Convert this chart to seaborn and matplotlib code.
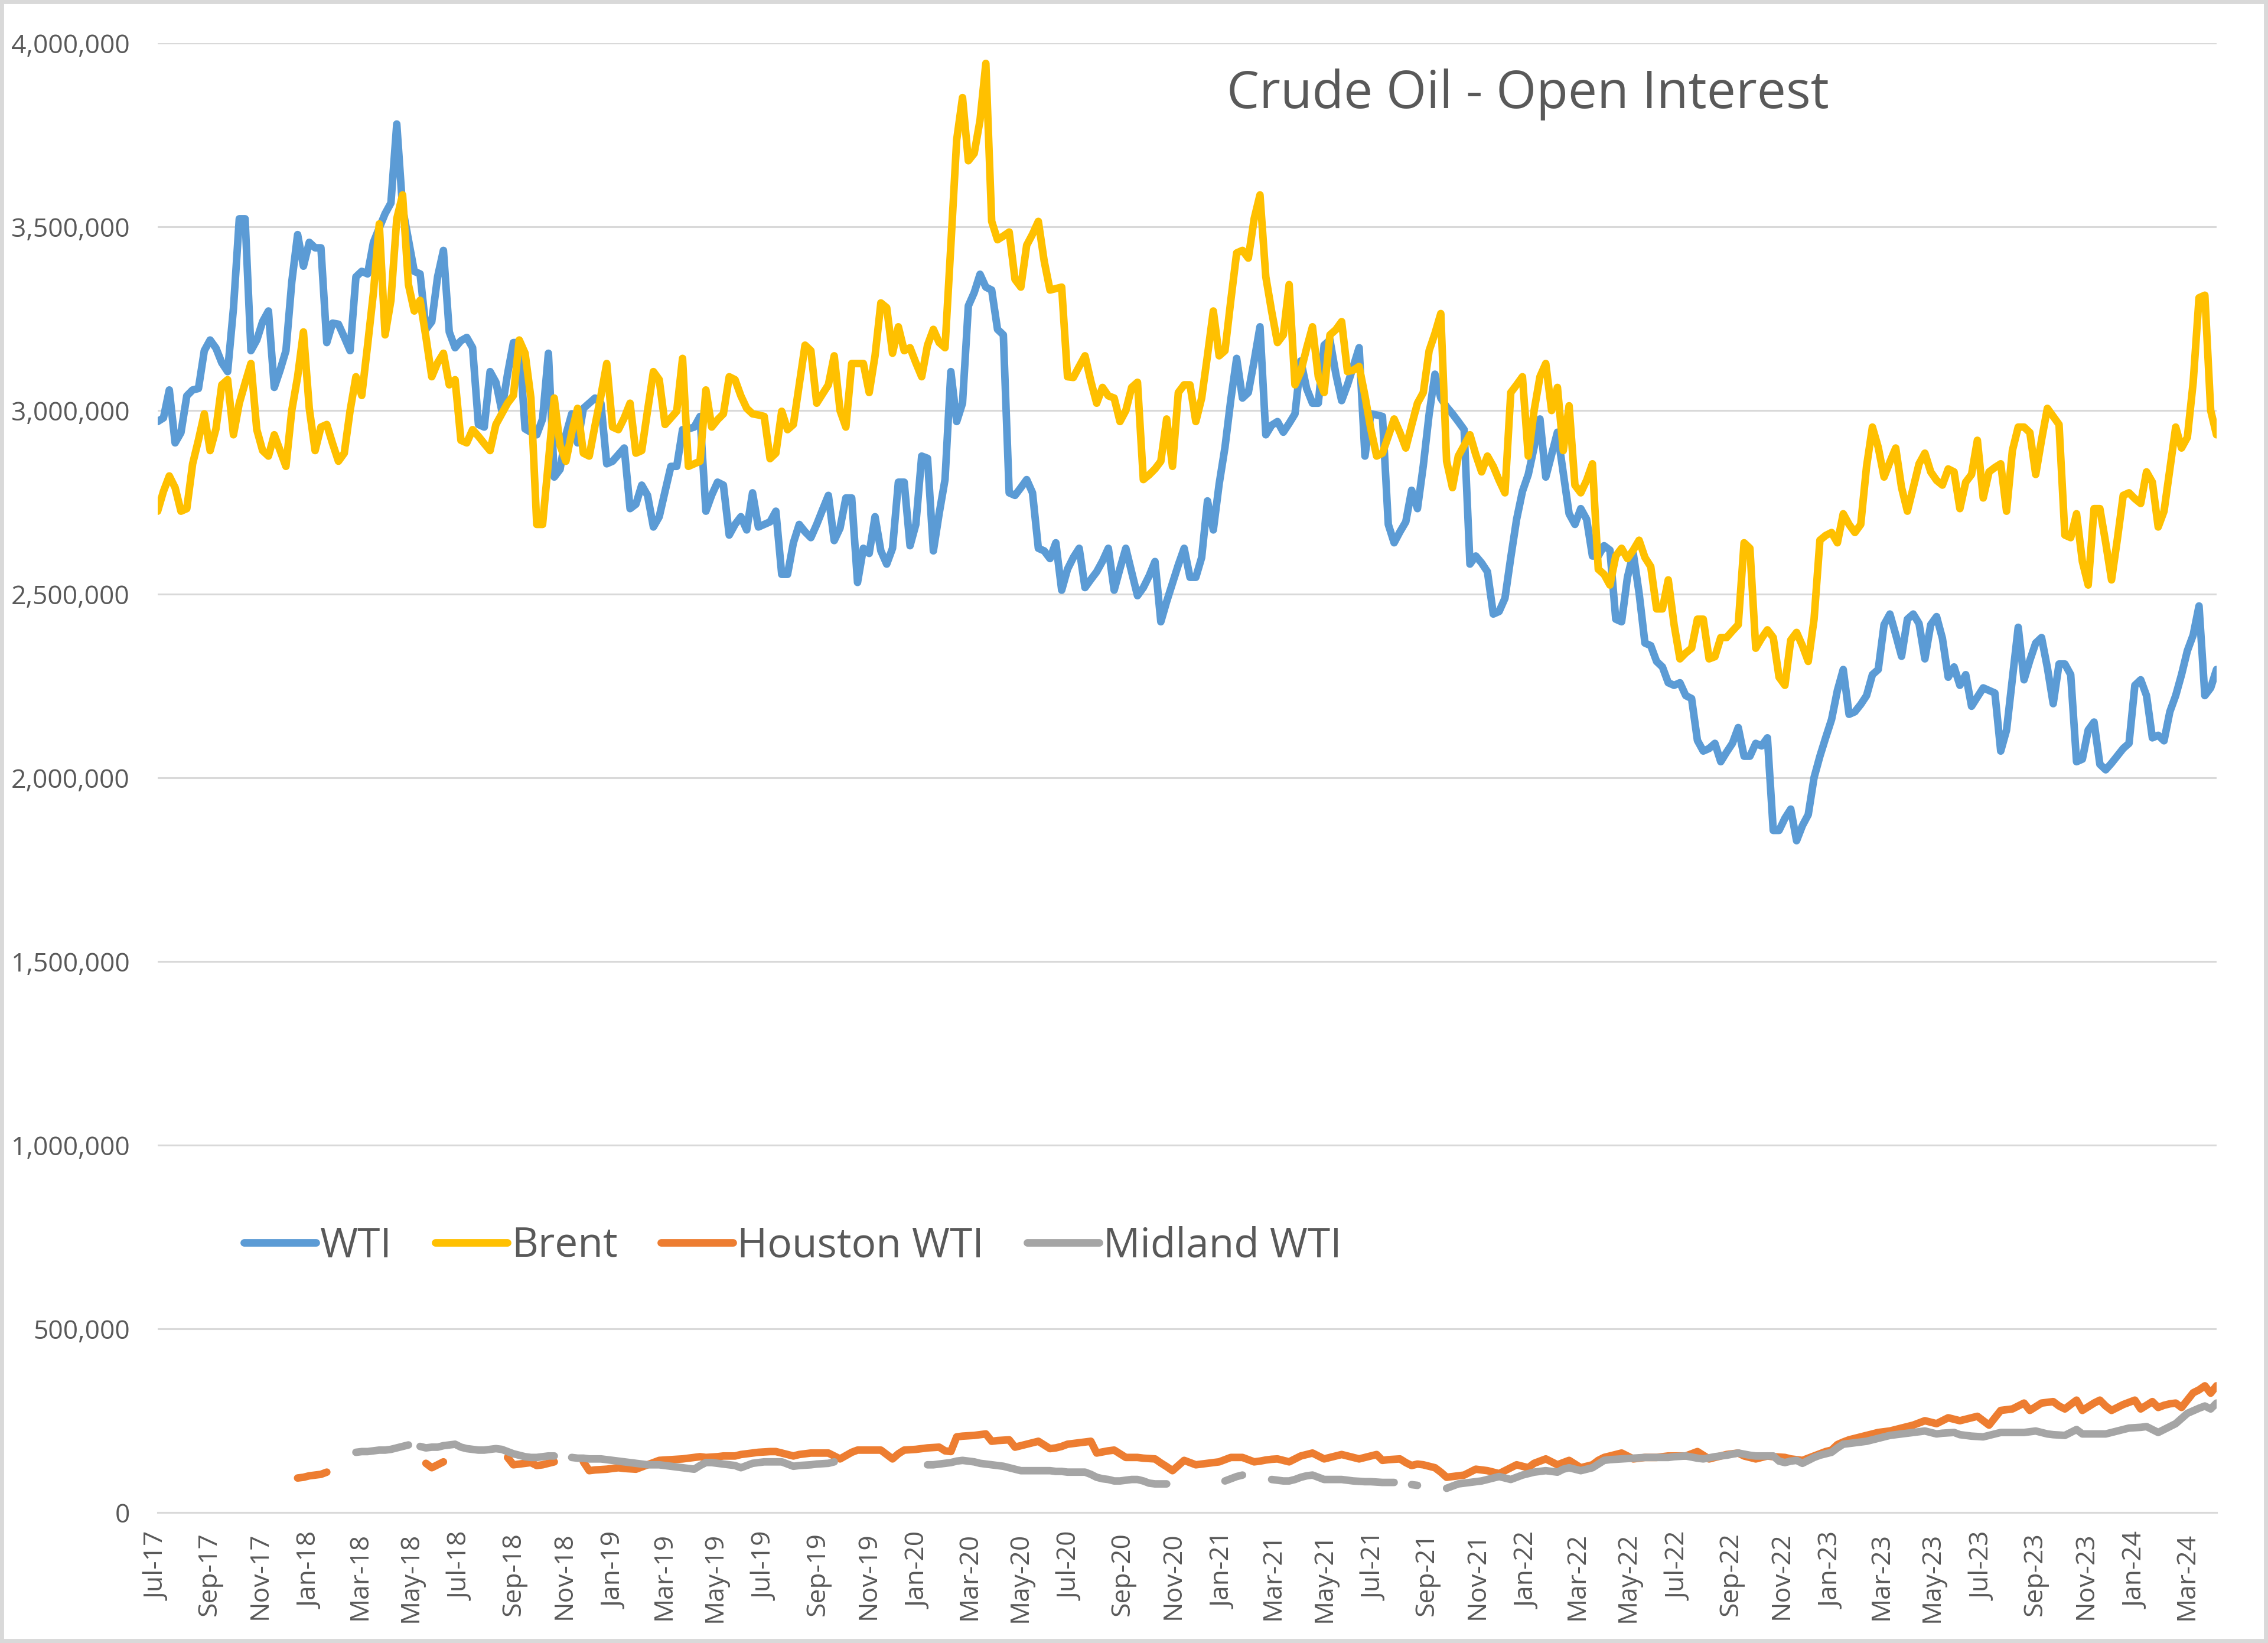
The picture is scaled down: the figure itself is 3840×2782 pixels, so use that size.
import numpy as np
import pandas as pd
import matplotlib.pyplot as plt
from matplotlib.ticker import FuncFormatter, MultipleLocator
from matplotlib.patches import Rectangle
import seaborn as sns

N = None  # no contract traded that week

# weekly open interest in thousand contracts, first week is 4 Jul 2017
wti = [
    2970, 2980, 3056, 2912, 2940, 3040, 3056, 3060, 3163, 3192,
    3170, 3130, 3106, 3278, 3522, 3522, 3163, 3192, 3242, 3271,
    3063, 3110, 3163, 3350, 3479, 3393, 3458, 3443, 3443, 3185,
    3238, 3235, 3200, 3163, 3364, 3379, 3372, 3458, 3497, 3536,
    3565, 3780, 3551, 3465, 3379, 3372, 3221, 3242, 3364, 3436,
    3214, 3171, 3190, 3199, 3171, 2962, 2955, 3106, 3077, 3000,
    3100, 3185, 3185, 2950, 2941, 2934, 2977, 3156, 2819, 2840,
    2934, 2991, 2912, 3006, 3020, 3034, 3020, 2855, 2862, 2880,
    2898, 2733, 2745, 2797, 2769, 2683, 2711, 2780, 2848, 2848,
    2948, 2950, 2955, 2984, 2726, 2770, 2805, 2797, 2661, 2690,
    2711, 2675, 2776, 2683, 2690, 2697, 2726, 2554, 2554, 2640,
    2690, 2670, 2654, 2690, 2730, 2769, 2646, 2680, 2762, 2762,
    2532, 2625, 2611, 2711, 2618, 2582, 2625, 2805, 2805, 2632,
    2690, 2876, 2870, 2618, 2720, 2812, 3106, 2970, 3020, 3285,
    3321, 3371, 3336, 3328, 3221, 3206, 2776, 2769, 2790, 2812,
    2776, 2625, 2618, 2597, 2640, 2511, 2568, 2600, 2625, 2518,
    2540, 2561, 2590, 2625, 2511, 2570, 2625, 2560, 2496, 2518,
    2550, 2589, 2425, 2480, 2530, 2580, 2625, 2546, 2546, 2600,
    2754, 2675, 2800, 2900, 3030, 3142, 3034, 3049, 3135, 3228,
    2934, 2960, 2970, 2941, 2965, 2991, 3135, 3060, 3020, 3020,
    3178, 3192, 3100, 3027, 3070, 3120, 3171, 2876, 2991, 2988,
    2984, 2690, 2640, 2670, 2697, 2783, 2733, 2850, 2990, 3099,
    3034, 3010, 2991, 2970, 2948, 2582, 2604, 2585, 2561, 2446,
    2453, 2489, 2600, 2704, 2780, 2826, 2900, 2977, 2819, 2880,
    2941, 2830, 2719, 2690, 2733, 2704, 2604, 2604, 2632, 2620,
    2432, 2425, 2546, 2611, 2503, 2367, 2360, 2317, 2302, 2259,
    2252, 2259, 2224, 2216, 2102, 2073, 2080, 2094, 2044, 2070,
    2094, 2137, 2059, 2059, 2094, 2087, 2109, 1857, 1857, 1890,
    1915, 1829, 1870, 1900, 2001, 2059, 2110, 2159, 2238, 2295,
    2173, 2180, 2200, 2224, 2281, 2295, 2417, 2446, 2390, 2331,
    2432, 2446, 2420, 2324, 2417, 2439, 2380, 2274, 2302, 2252,
    2281, 2195, 2220, 2245, 2238, 2231, 2073, 2130, 2270, 2410,
    2267, 2320, 2367, 2382, 2300, 2202, 2310, 2310, 2281, 2044,
    2051, 2130, 2152, 2037, 2022, 2040, 2060, 2080, 2094, 2252,
    2267, 2224, 2109, 2116, 2101, 2180, 2224, 2281, 2346, 2389,
    2468, 2224, 2245, 2295,
]

brent = [
    2726, 2780, 2822, 2790, 2726, 2733, 2855, 2920, 2991, 2891,
    2950, 3070, 3084, 2934, 3020, 3075, 3128, 2948, 2891, 2876,
    2934, 2891, 2848, 3000, 3092, 3214, 3006, 2891, 2955, 2962,
    2910, 2862, 2884, 3000, 3092, 3041, 3178, 3321, 3508, 3206,
    3300, 3522, 3587, 3343, 3271, 3300, 3200, 3092, 3130, 3156,
    3070, 3084, 2919, 2912, 2948, 2930, 2910, 2891, 2962, 2991,
    3020, 3041, 3192, 3156, 3034, 2690, 2690, 2860, 3034, 2905,
    2862, 2940, 3006, 2884, 2876, 2960, 3040, 3128, 2955, 2948,
    2980, 3020, 2884, 2891, 3000, 3106, 3084, 2962, 2980, 2998,
    3142, 2848, 2855, 2862, 3056, 2955, 2975, 2991, 3092, 3084,
    3040, 3006, 2991, 2988, 2984, 2869, 2884, 2998, 2948, 2962,
    3070, 3178, 3163, 3020, 3045, 3070, 3149, 3000, 2955, 3128,
    3128, 3128, 3049, 3149, 3293, 3280, 3156, 3228, 3163, 3171,
    3130, 3092, 3178, 3221, 3185, 3171, 3450, 3737, 3852, 3680,
    3700, 3790, 3945, 3515, 3465, 3475, 3486, 3357, 3336, 3450,
    3480, 3515, 3407, 3328, 3332, 3336, 3092, 3090, 3120, 3149,
    3080, 3020, 3063, 3040, 3034, 2970, 3000, 3063, 3077, 2812,
    2825, 2841, 2862, 2977, 2848, 3049, 3070, 3070, 2970, 3034,
    3150, 3271, 3149, 3163, 3300, 3429, 3436, 3415, 3522, 3587,
    3364, 3270, 3185, 3206, 3343, 3070, 3106, 3170, 3228, 3092,
    3049, 3206, 3220, 3242, 3106, 3110, 3120, 3040, 2950, 2876,
    2884, 2930, 2977, 2940, 2898, 2960, 3020, 3049, 3163, 3210,
    3264, 2862, 2790, 2876, 2905, 2934, 2880, 2833, 2876, 2848,
    2810, 2776, 3049, 3070, 3092, 2876, 3000, 3092, 3128, 3000,
    3063, 2891, 3013, 2797, 2776, 2810, 2855, 2568, 2554, 2525,
    2604, 2625, 2597, 2620, 2647, 2600, 2575, 2460, 2460, 2539,
    2417, 2324, 2340, 2353, 2432, 2432, 2324, 2330, 2382, 2382,
    2400, 2417, 2640, 2625, 2353, 2380, 2403, 2382, 2274, 2252,
    2375, 2396, 2360, 2317, 2432, 2647, 2660, 2668, 2640, 2719,
    2690, 2668, 2690, 2848, 2955, 2900, 2819, 2860, 2898, 2790,
    2726, 2790, 2855, 2884, 2833, 2810, 2797, 2841, 2833, 2733,
    2805, 2826, 2919, 2762, 2833, 2845, 2855, 2726, 2891, 2955,
    2955, 2940, 2826, 2920, 3006, 2984, 2962, 2661, 2654, 2719,
    2589, 2525, 2733, 2733, 2640, 2539, 2650, 2769, 2776, 2760,
    2747, 2833, 2805, 2683, 2726, 2840, 2955, 2898, 2927, 3077,
    3307, 3314, 3000, 2934,
]

houston = [
    N, N, N, N, N, N, N, N, N, N,
    N, N, N, N, N, N, N, N, N, N,
    N, N, N, N, 94, 96, 100, 102, 104, 110,
    N, N, N, N, N, N, N, N, N, N,
    N, N, N, N, N, N, 134, 122, 130, 138,
    N, N, N, N, N, N, N, N, N, N,
    150, 130, 132, 134, 136, 128, 130, 134, 138, N,
    N, N, N, 138, 114, 116, 117, 118, 120, 122,
    120, 119, 118, 124, 130, 136, 142, 143, 144, 145,
    146, 148, 150, 152, 150, 151, 152, 154, 154, 154,
    158, 160, 162, 164, 165, 166, 166, 162, 158, 154,
    158, 160, 162, 162, 162, 162, 154, 146, 155, 164,
    170, 170, 170, 170, 170, 158, 146, 160, 170, 171,
    172, 174, 176, 177, 178, 168, 166, 206, 208, 209,
    210, 212, 214, 194, 196, 197, 198, 178, 182, 186,
    190, 194, 184, 174, 176, 180, 186, 188, 190, 192,
    194, 162, 165, 168, 170, 160, 150, 150, 150, 148,
    147, 146, 135, 125, 114, 128, 142, 136, 130, 132,
    134, 136, 138, 144, 150, 150, 150, 144, 138, 140,
    143, 145, 146, 142, 138, 146, 154, 158, 162, 154,
    146, 150, 154, 158, 154, 150, 146, 150, 154, 158,
    142, 144, 145, 146, 136, 128, 132, 130, 126, 122,
    110, 96, 98, 100, 102, 110, 118, 116, 114, 110,
    106, 114, 122, 130, 126, 122, 134, 140, 146, 138,
    130, 136, 142, 132, 122, 126, 130, 142, 150, 154,
    158, 162, 154, 146, 148, 150, 150, 150, 152, 154,
    154, 154, 154, 160, 166, 156, 146, 150, 154, 158,
    160, 162, 154, 150, 146, 150, 154, 152, 151, 150,
    146, 144, 142, 148, 154, 160, 166, 170, 185, 192,
    198, 202, 206, 210, 214, 218, 220, 222, 226, 230,
    234, 238, 244, 250, 246, 242, 250, 258, 254, 250,
    254, 258, 262, 250, 238, 258, 278, 280, 282, 290,
    298, 278, 288, 298, 300, 302, 290, 282, 294, 306,
    278, 288, 298, 306, 290, 278, 286, 294, 300, 306,
    282, 292, 302, 286, 292, 296, 298, 286, 306, 326,
    334, 345, 325, 345,
]

midland = [
    N, N, N, N, N, N, N, N, N, N,
    N, N, N, N, N, N, N, N, N, N,
    N, N, N, N, N, N, N, N, N, N,
    N, N, N, N, 164, 166, 166, 168, 170, 170,
    172, 176, 180, 184, N, 180, 176, 178, 178, 182,
    184, 186, 178, 174, 172, 170, 170, 172, 174, 172,
    166, 160, 156, 152, 150, 150, 152, 154, 154, N,
    N, 150, 148, 148, 146, 146, 146, 144, 142, 140,
    138, 136, 134, 132, 130, 130, 130, 128, 126, 124,
    122, 120, 118, 128, 136, 136, 134, 132, 130, 128,
    122, 128, 134, 136, 138, 138, 138, 138, 132, 126,
    128, 129, 130, 132, 133, 134, 138, N, N, N,
    N, N, N, N, N, N, N, N, N, N,
    N, N, 130, 130, 132, 134, 136, 140, 142, 140,
    138, 134, 132, 130, 128, 126, 122, 118, 114, 114,
    114, 114, 114, 114, 112, 112, 110, 110, 110, 110,
    104, 96, 92, 90, 86, 86, 88, 90, 90, 86,
    80, 78, 78, 78, N, N, N, N, N, N,
    N, N, N, 86, 92, 98, 102, N, N, N,
    N, 90, 88, 86, 86, 90, 96, 100, 102, 96,
    90, 90, 90, 90, 88, 86, 85, 84, 84, 83,
    82, 82, 82, N, N, 76, 74, N, N, N,
    N, 66, 72, 78, 80, 82, 84, 86, 90, 94,
    98, 94, 90, 96, 102, 106, 110, 112, 114, 112,
    110, 118, 122, 118, 114, 118, 122, 132, 142, 144,
    145, 146, 147, 148, 149, 150, 150, 150, 150, 150,
    152, 153, 154, 151, 148, 146, 149, 152, 154, 156,
    159, 162, 159, 156, 154, 154, 154, 154, 140, 136,
    140, 142, 134, 142, 150, 156, 160, 164, 176, 186,
    188, 190, 192, 194, 198, 202, 206, 210, 212, 214,
    216, 218, 220, 222, 218, 214, 216, 217, 218, 212,
    210, 208, 207, 206, 210, 214, 218, 218, 218, 218,
    218, 220, 222, 218, 214, 212, 211, 210, 218, 226,
    214, 214, 214, 214, 214, 218, 222, 226, 230, 231,
    232, 234, 226, 218, 226, 234, 242, 256, 270, 277,
    284, 290, 282, 298,
]

series_names = ["WTI", "Brent", "Houston WTI", "Midland WTI"]
colors = ["#5B9BD5", "#FFC000", "#ED7D31", "#A5A5A5"]
all_values = [wti, brent, houston, midland]

for name, vals in zip(series_names, all_values):
    assert len(vals) == len(wti), (name, len(vals))

dates = pd.date_range("2017-07-04", periods=len(wti), freq="7D")

# long table, a new segment starts after every missing week so gaps stay open
frames = []
for name, vals in zip(series_names, all_values):
    oi = np.array(vals, dtype=float) * 1000
    seg = np.cumsum(np.isnan(oi))
    d = pd.DataFrame({"date": dates, "oi": oi, "series": name, "seg": seg})
    frames.append(d.dropna(subset=["oi"]))
df = pd.concat(frames, ignore_index=True)

sns.set_theme(style="white")
plt.rcParams["font.family"] = ["Open Sans", "DejaVu Sans"]
txt = "#595959"
grid = "#D9D9D9"
lw = 4.6

fig = plt.figure(figsize=(19.2, 13.91), dpi=200)
ax = fig.add_axes([0.0695, 0.0794, 0.9078, 0.8943])

sns.lineplot(data=df, x="date", y="oi", hue="series", units="seg", estimator=None,
             hue_order=series_names, palette=dict(zip(series_names, colors)),
             linewidth=lw, solid_joinstyle="round", solid_capstyle="round", ax=ax)
for line in ax.lines:
    line.set_linewidth(lw)
    line.set_solid_joinstyle("round")
    line.set_solid_capstyle("round")

ax.set_xlim(dates[0], dates[-1])
ax.set_ylim(0, 4000000)
ax.yaxis.set_major_locator(MultipleLocator(500000))
ax.yaxis.set_major_formatter(FuncFormatter(lambda v, p: f"{v:,.0f}"))
ax.grid(axis="y", color=grid, linewidth=1.1)
ax.grid(axis="x", visible=False)
ax.set_axisbelow(True)
for side in ["top", "left", "right"]:
    ax.spines[side].set_visible(False)
ax.spines["bottom"].set_color(grid)
ax.spines["bottom"].set_linewidth(1.1)

ticks = pd.date_range(dates[0], periods=41, freq=pd.DateOffset(months=2))
ax.set_xticks(ticks)
ax.set_xticklabels([t.strftime("%b-%y") for t in ticks], rotation=90)
ax.tick_params(axis="x", length=0, pad=12, labelsize=16, colors=txt)
ax.tick_params(axis="y", length=0, pad=17, labelsize=16, colors=txt)
ax.set_xlabel("")
ax.set_ylabel("")

handles, labels = ax.get_legend_handles_labels()
for h in handles:
    h.set_linewidth(lw)
    h.set_solid_capstyle("round")
ax.legend(handles, labels, loc="center left", bbox_to_anchor=(0.024, 0.181), ncol=4,
          frameon=False, fontsize=25, labelcolor=txt, handlelength=1.76,
          handletextpad=0.1, columnspacing=1.05)

fig.text(0.541, 0.9342, "Crude Oil - Open Interest", fontsize=31.5, color=txt,
         ha="left", va="baseline")

fig.patches.append(Rectangle((0, 0), 1, 1, transform=fig.transFigure, fill=False,
                             edgecolor=grid, linewidth=5))

fig.savefig("out.png", dpi=200, facecolor="white")
